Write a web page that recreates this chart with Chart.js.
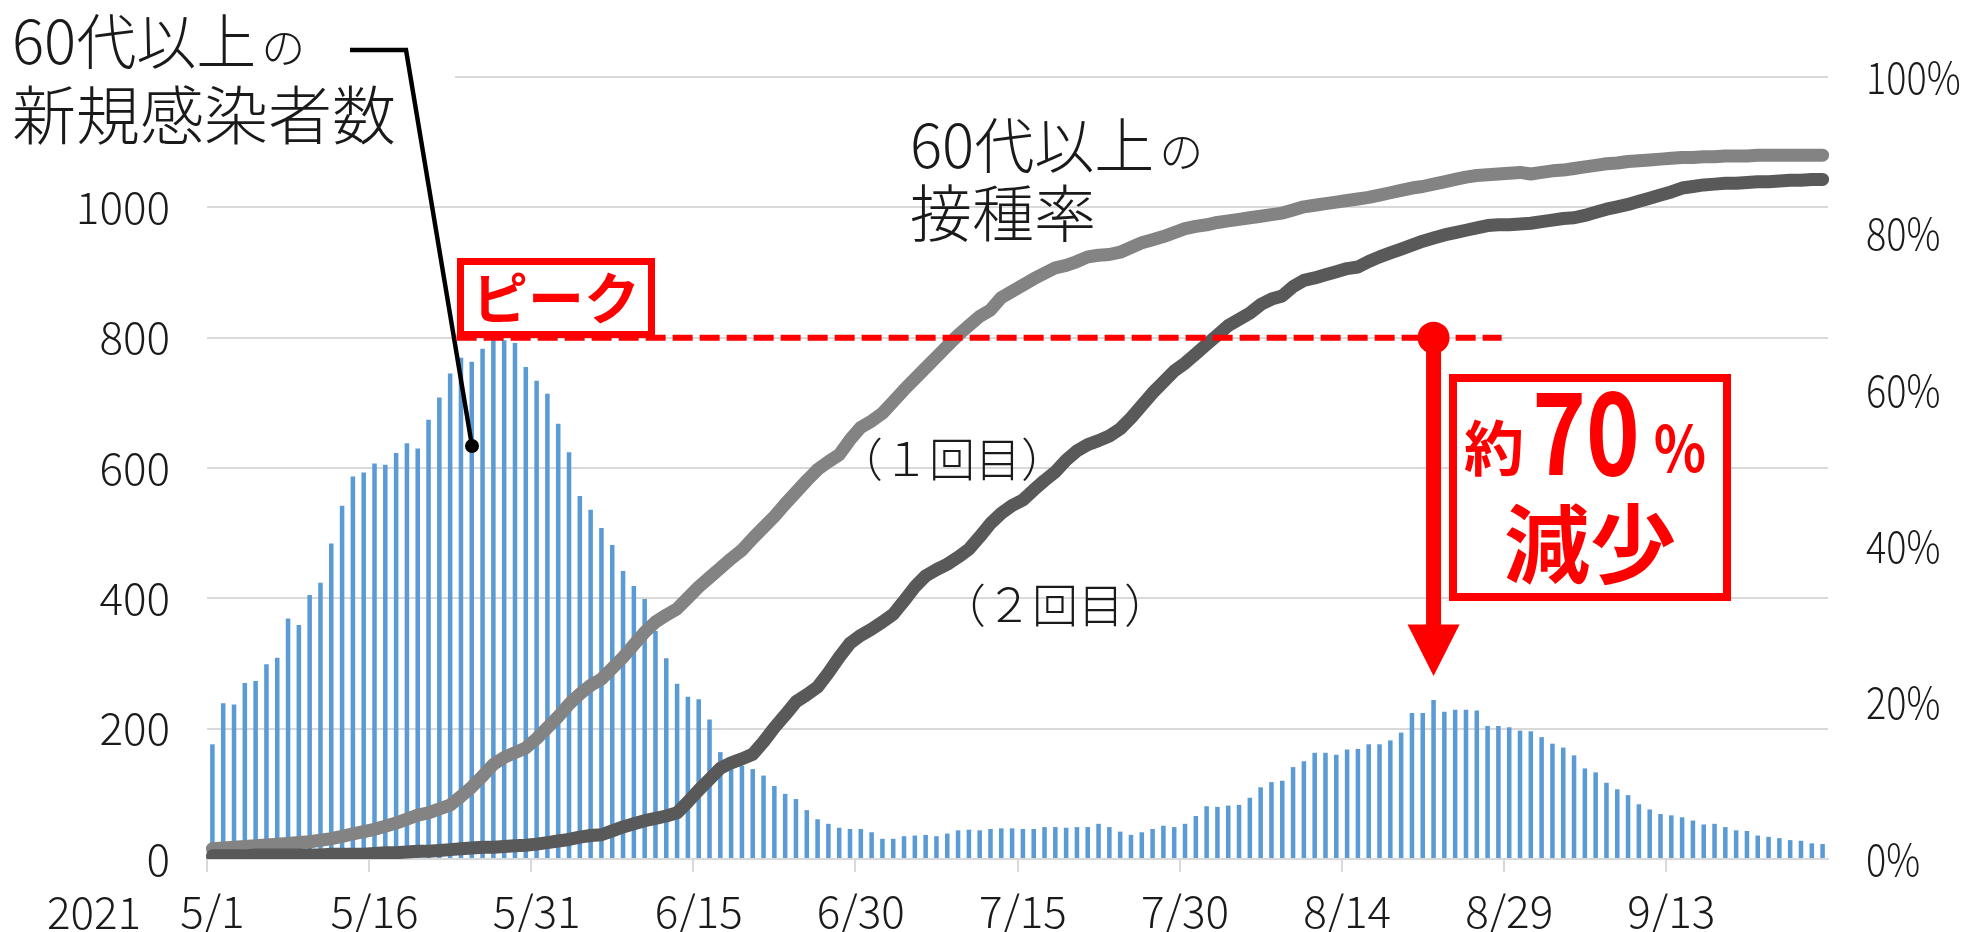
<!DOCTYPE html>
<html>
<head>
<meta charset="utf-8">
<script src="https://cdn.jsdelivr.net/npm/chart.js@4.4.0/dist/chart.umd.min.js"></script>
<style>
  html, body { margin: 0; padding: 0; background: #fff; }
  canvas { display: block; }
</style>
</head>
<body>
<canvas id="chart" width="1972" height="932"></canvas>
<script>
// 60代以上の新規感染者数 (daily, from 5/1)
const cases = [
  176, 239, 237, 270, 273, 299, 309, 369, 359, 405, 424, 484, 542, 587, 593, 607, 605, 623, 638, 630, 674, 708, 745, 769, 763,
  783, 800, 796, 792, 755, 734, 714, 668, 624, 557, 536, 508, 482, 442, 419, 399, 350, 308, 269, 249, 245, 214, 164, 146, 143,
  138, 128, 112, 100, 92, 75, 61, 54, 48, 46, 46, 41, 31, 31, 35, 36, 37, 35, 39, 44, 45, 44, 46, 47, 47,
  46, 46, 49, 49, 48, 49, 49, 54, 49, 42, 37, 41, 46, 51, 49, 54, 66, 81, 80, 82, 83, 94, 110, 118, 120,
  141, 150, 163, 163, 160, 168, 169, 176, 176, 182, 194, 224, 224, 244, 226, 229, 229, 228, 204, 204, 202, 197, 196, 187, 177,
  171, 159, 139, 133, 117, 107, 98, 84, 76, 69, 67, 64, 59, 53, 54, 49, 44, 43, 36, 34, 32, 29, 28, 24, 23
];

// 60代以上の接種率 1回目 (%)
const dose1 = [
  1.3, 1.4, 1.5, 1.6, 1.7, 1.8, 1.9, 2.0, 2.1, 2.2,
  2.4, 2.6, 2.9, 3.2, 3.5, 3.8, 4.2, 4.6,
  5.1, 5.6, 5.9, 6.4, 6.9,
  8.0, 9.2, 10.6, 12.1, 13.0, 13.6, 14.2,
  15.4, 16.8, 18.2, 19.8, 21.1, 22.2, 23.0,
  24.4, 25.8, 27.4, 29.0, 30.3, 31.2, 32.0,
  33.4, 34.8, 36.0, 37.2, 38.4, 39.5, 41.0,
  42.4, 43.8, 45.4, 46.9, 48.4, 49.8, 50.8,
  51.7, 53.6, 55.2, 56.0, 57.0, 58.5, 60.0,
  61.4, 62.8, 64.2, 65.6, 67.0, 68.2, 69.4,
  70.2, 71.8, 72.6, 73.4, 74.2, 74.9, 75.6,
  75.9, 76.4, 77.0, 77.2, 77.3, 77.6, 78.2,
  78.8, 79.2, 79.6, 80.1, 80.6, 80.9, 81.1,
  81.4, 81.6, 81.8, 82.0, 82.2, 82.4, 82.6,
  83.0, 83.4, 83.6, 83.8, 84.0, 84.2, 84.4,
  84.6, 84.9, 85.2, 85.5, 85.8, 86.0, 86.3,
  86.6, 86.9, 87.2, 87.4, 87.5, 87.6, 87.7,
  87.8, 87.6, 87.8, 88.0, 88.1, 88.3, 88.5,
  88.7, 88.9, 89.0, 89.2, 89.3, 89.4, 89.5,
  89.6, 89.7, 89.7, 89.8, 89.8, 89.9, 89.9,
  89.9, 90.0, 90.0, 90.0, 90.0, 90.0, 90.0, 90.0
];

// 60代以上の接種率 2回目 (%)
const dose2 = [
  0.4, 0.4, 0.4, 0.4, 0.5, 0.5, 0.5, 0.5, 0.5, 0.5, 0.5, 0.6, 0.6, 0.6, 0.6,
  0.7, 0.8, 0.8, 0.9, 1.0, 1.0, 1.1, 1.2, 1.3, 1.4,
  1.5, 1.5, 1.6, 1.7, 1.75, 1.9, 2.1,
  2.3, 2.5, 2.8, 3.0, 3.1, 3.6, 4.1,
  4.5, 4.9, 5.2, 5.5, 5.9, 7.3, 8.8,
  10.2, 11.6, 12.3, 12.8, 13.4, 15.0, 16.8,
  18.4, 20.1, 21.0, 22.0, 23.8, 25.8, 27.6,
  28.6, 29.4, 30.3, 31.3, 33.0, 34.8, 36.2,
  37.0, 37.7, 38.6, 39.6, 41.2, 42.9, 44.2,
  45.2, 45.9, 47.2, 48.4, 49.5, 51.0, 52.2,
  53.0, 53.5, 54.1, 55.0, 56.4, 58.0, 59.6,
  61.0, 62.4, 63.4, 64.6, 65.8, 67.0, 68.2,
  69.0, 69.8, 70.9, 71.6, 72.0, 73.2, 74.0,
  74.3, 74.7, 75.1, 75.5, 75.7, 76.4, 77.0,
  77.5, 78.0, 78.5, 79.0, 79.4, 79.8, 80.1,
  80.4, 80.7, 81.0, 81.1, 81.1, 81.2, 81.3,
  81.5, 81.7, 81.9, 82.0, 82.3, 82.7, 83.1,
  83.4, 83.7, 84.1, 84.5, 84.9, 85.3, 85.8,
  86.0, 86.2, 86.3, 86.4, 86.4, 86.5, 86.6,
  86.6, 86.7, 86.8, 86.8, 86.9, 86.9
];

const tickLabels = ['5/1', '5/16', '5/31', '6/15', '6/30', '7/15', '7/30', '8/14', '8/29', '9/13'];
const tickEvery = 15;
const rateTicks = [0, 20, 40, 60, 80, 100];
const yearLabel = '2021';

// annotation anchors, in scale units (category index / value)
const peakLine = { value: 800, from: 22.6, to: 119.3 };
const drop = { index: 113, from: 800, headBase: 360, tip: 281 };

// one category per day starting 5/1
const monthLen = { 5: 31, 6: 30, 7: 31, 8: 31, 9: 30 };
const days = [];
let mon = 5, day = 1;
for (let i = 0; i < cases.length; i++) {
    days.push(mon + '/' + day);
    day++;
    if (day > monthLen[mon]) { mon++; day = 1; }
}

const FONT = "'Noto Sans CJK JP', 'Noto Sans', sans-serif";
const TEXT = '#1a1a1a';
const RED = '#ff0000';
const GRID = '#d9d9d9';

function text(ctx, str, x, y, size, opts = {}) {
    ctx.font = (opts.weight || '300') + ' ' + size + 'px ' + FONT;
    ctx.fillStyle = opts.color || TEXT;
    ctx.textAlign = opts.align || 'left';
    ctx.textBaseline = opts.baseline || 'alphabetic';
    if (opts.sx) {
        ctx.save();
        ctx.translate(x, y);
        ctx.scale(opts.sx, 1);
        ctx.fillText(str, 0, 0);
        ctx.restore();
    } else {
        ctx.fillText(str, x, y);
    }
    return ctx.measureText(str).width * (opts.sx || 1);
}

const annotations = {
    id: 'annotations',
    afterDraw(chart) {
        const { ctx, scales: { x, y, y2 } } = chart;
        ctx.save();

        // right axis labels (drawn a little narrower than the canvas font)
        rateTicks.forEach(v => {
            text(ctx, v + '%', 1866, y2.getPixelForValue(v), 44, { baseline: 'middle', sx: 0.86 });
        });

        // title of the bars, top left
        ctx.fillStyle = '#fff';
        ctx.fillRect(0, 0, 455, 150);
        let w = text(ctx, '60代以上', 12, 64, 60);
        text(ctx, 'の', 12 + w + 5, 64, 44);
        text(ctx, '新規感染者数', 12, 139, 64);

        // leader line to the bars
        ctx.strokeStyle = '#000';
        ctx.lineWidth = 4.5;
        ctx.beginPath();
        ctx.moveTo(350, 50);
        ctx.lineTo(406, 50);
        ctx.lineTo(472, 446);
        ctx.stroke();
        ctx.fillStyle = '#000';
        ctx.beginPath();
        ctx.arc(472, 446, 7, 0, Math.PI * 2);
        ctx.fill();

        // title of the lines
        w = text(ctx, '60代以上', 910, 168, 60);
        text(ctx, 'の', 910 + w + 5, 168, 44);
        text(ctx, '接種率', 910, 237, 62);
        text(ctx, '（１回目）', 952, 459, 46, { align: 'center', baseline: 'middle' });
        text(ctx, '（２回目）', 1055, 605, 46, { align: 'center', baseline: 'middle' });

        // peak dashed line
        const py = y.getPixelForValue(peakLine.value);
        ctx.strokeStyle = RED;
        ctx.lineWidth = 6;
        ctx.setLineDash([20, 7]);
        ctx.beginPath();
        ctx.moveTo(x.getPixelForValue(peakLine.from), py);
        ctx.lineTo(x.getPixelForValue(peakLine.to), py);
        ctx.stroke();
        ctx.setLineDash([]);

        // ピーク box
        ctx.fillStyle = '#fff';
        ctx.fillRect(461, 262, 190, 72);
        ctx.lineWidth = 7;
        ctx.strokeRect(460.5, 261.5, 191, 73);
        text(ctx, 'ピーク', 556, 298, 56, { weight: 'bold', color: RED, align: 'center', baseline: 'middle' });

        // drop arrow
        const ax = x.getPixelForValue(drop.index);
        const ay0 = y.getPixelForValue(drop.from);
        const ayb = y.getPixelForValue(drop.headBase);
        const ayt = y.getPixelForValue(drop.tip);
        ctx.fillStyle = RED;
        ctx.beginPath();
        ctx.arc(ax, ay0, 16, 0, Math.PI * 2);
        ctx.fill();
        ctx.lineWidth = 15;
        ctx.beginPath();
        ctx.moveTo(ax, ay0);
        ctx.lineTo(ax, ayb + 1);
        ctx.stroke();
        ctx.beginPath();
        ctx.moveTo(ax - 26, ayb);
        ctx.lineTo(ax + 26, ayb);
        ctx.lineTo(ax, ayt);
        ctx.closePath();
        ctx.fill();

        // 約70%減少 box
        ctx.fillStyle = '#fff';
        ctx.fillRect(1453, 378, 274, 219);
        ctx.lineWidth = 8;
        ctx.strokeRect(1453, 378, 274, 219);
        text(ctx, '約', 1494, 448, 60, { weight: 'bold', color: RED, align: 'center', baseline: 'middle' });
        text(ctx, '70', 1586, 432, 114, { weight: 'bold', color: RED, align: 'center', baseline: 'middle', sx: 0.8 });
        text(ctx, '%', 1680, 448, 64, { weight: 'bold', color: RED, align: 'center', baseline: 'middle', sx: 0.85 });
        text(ctx, '減少', 1590, 544, 86, { weight: 'bold', color: RED, align: 'center', baseline: 'middle' });

        // year under the axis
        text(ctx, yearLabel, 94, 912, 44, { align: 'center', baseline: 'middle' });

        ctx.restore();
    }
};

const tickFont = { family: FONT, size: 44, weight: '300' };

new Chart(document.getElementById('chart'), {
    type: 'bar',
    data: {
        labels: days,
        datasets: [
            {
                type: 'line',
                label: '2回目',
                data: dose2,
                yAxisID: 'y2',
                borderColor: '#595959',
                borderWidth: 13,
                pointRadius: 0,
                borderCapStyle: 'round',
                borderJoinStyle: 'round',
                order: 0
            },
            {
                type: 'line',
                label: '1回目',
                data: dose1,
                yAxisID: 'y2',
                borderColor: '#838383',
                borderWidth: 13,
                pointRadius: 0,
                borderCapStyle: 'round',
                borderJoinStyle: 'round',
                order: 1
            },
            {
                label: '新規感染者数',
                data: cases,
                yAxisID: 'y',
                backgroundColor: '#5b9bd5',
                barPercentage: 0.42,
                categoryPercentage: 1,
                order: 2
            }
        ]
    },
    options: {
        responsive: false,
        animation: false,
        devicePixelRatio: 1,
        layout: { padding: { top: 77, left: 0, right: 0, bottom: 0 } },
        plugins: { legend: { display: false }, tooltip: { enabled: false } },
        scales: {
            x: {
                offset: true,
                grid: {
                    offset: true,
                    drawOnChartArea: false,
                    drawTicks: true,
                    tickLength: 13,
                    lineWidth: 2,
                    color: c => (c.index % tickEvery === 0 ? GRID : 'rgba(0,0,0,0)')
                },
                border: { display: true, color: GRID, width: 2 },
                ticks: {
                    autoSkip: false,
                    maxRotation: 0,
                    padding: 13,
                    font: tickFont,
                    color: TEXT,
                    callback: (v, i) => (i % tickEvery === 0 ? tickLabels[i / tickEvery] : '')
                },
                afterFit: s => { s.height = 73; }
            },
            y: {
                position: 'left',
                min: 0,
                max: 1200,
                ticks: {
                    stepSize: 200,
                    padding: 37,
                    font: tickFont,
                    color: TEXT,
                    callback: v => (v === 1200 ? '' : v)
                },
                grid: { color: GRID, lineWidth: 2, drawTicks: false },
                border: { display: false },
                afterFit: s => { s.width = 207; }
            },
            y2: {
                position: 'right',
                min: 0,
                max: 100,
                ticks: { stepSize: 20, display: false },
                grid: { display: false },
                border: { display: false },
                afterFit: s => { s.width = 144; }
            }
        }
    },
    plugins: [annotations]
});
</script>
</body>
</html>
